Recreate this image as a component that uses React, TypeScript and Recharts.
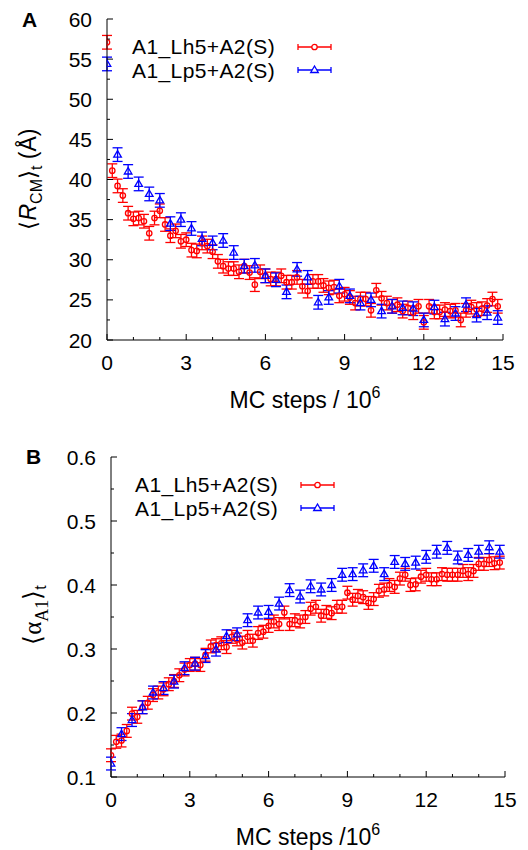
import React from "react";
import { ComposedChart, Scatter, ErrorBar, XAxis, YAxis, Legend } from "recharts";

const FONT = '"Liberation Sans", Arial, Helvetica, sans-serif';
const SERIF = '"Liberation Serif", "Times New Roman", serif';
const RED = "#ff0000";
const BLUE = "#0000ff";

const seriesNames = ["A1_Lh5+A2(S)", "A1_Lp5+A2(S)"];

// MC steps (x 10^6): red series sampled every 0.2, blue every 0.4
const stepsFine = [
  0, 0.2, 0.4, 0.6, 0.8, 1, 1.2, 1.4, 1.6, 1.8, 2, 2.2, 2.4, 2.6, 2.8, 3, 3.2, 3.4, 3.6, 3.8,
  4, 4.2, 4.4, 4.6, 4.8, 5, 5.2, 5.4, 5.6, 5.8, 6, 6.2, 6.4, 6.6, 6.8, 7, 7.2, 7.4, 7.6, 7.8,
  8, 8.2, 8.4, 8.6, 8.8, 9, 9.2, 9.4, 9.6, 9.8, 10, 10.2, 10.4, 10.6, 10.8, 11, 11.2, 11.4, 11.6, 11.8,
  12, 12.2, 12.4, 12.6, 12.8, 13, 13.2, 13.4, 13.6, 13.8, 14, 14.2, 14.4, 14.6, 14.8,
];
const stepsCoarse = [
  0, 0.4, 0.8, 1.2, 1.6, 2, 2.4, 2.8, 3.2, 3.6, 4, 4.4, 4.8, 5.2, 5.6, 6, 6.4, 6.8, 7.2, 7.6,
  8, 8.4, 8.8, 9.2, 9.6, 10, 10.4, 10.8, 11.2, 11.6, 12, 12.4, 12.8, 13.2, 13.6, 14, 14.4, 14.8,
];

// panel A: <R_CM>_t (Angstrom)
const rcmLh5 = [
  57.1, 41.1, 39.2, 38.0, 35.8, 35.1, 35.2, 34.8, 33.3, 35.2, 36.1, 34.4, 33.0, 33.6, 32.3, 32.5, 31.2, 31.1, 32.1, 31.7,
  31.0, 29.8, 29.2, 28.9, 28.9, 28.5, 29.2, 28.4, 26.9, 28.5, 28.0, 27.6, 27.6, 28.0, 27.2, 27.2, 27.8, 26.7, 26.1, 27.3,
  27.3, 26.8, 26.5, 26.6, 25.5, 25.7, 25.3, 24.6, 25.1, 25.1, 23.7, 26.2, 25.2, 24.6, 24.2, 24.4, 23.6, 24.0, 23.4, 24.2,
  22.2, 24.2, 23.5, 23.5, 23.8, 23.6, 23.7, 22.5, 23.7, 24.1, 23.8, 23.9, 24.3, 25.1, 24.2,
];
const rcmLp5 = [
  54.4, 43.1, 41.0, 39.45, 38.2, 37.4, 34.5, 35.0, 33.9, 32.6, 32.1, 32.4, 30.9, 29.2, 29.3, 28.0, 27.5, 26.0, 28.8, 27.8,
  24.7, 25.3, 26.7, 25.5, 24.6, 25.0, 23.6, 24.2, 24.0, 23.9, 22.5, 24.1, 22.6, 23.3, 24.4, 23.1, 23.4, 22.8,
];
const rcmErr = 0.85;

// panel B: <alpha_A1>_t
const alphaLh5 = [
  0.134, 0.155, 0.157, 0.172, 0.199, 0.194, 0.209, 0.216, 0.228, 0.232, 0.237, 0.245, 0.25, 0.259, 0.268, 0.275, 0.277, 0.275, 0.291, 0.304,
  0.306, 0.309, 0.303, 0.319, 0.315, 0.31, 0.319, 0.313, 0.325, 0.327, 0.336, 0.343, 0.339, 0.357, 0.339, 0.345, 0.343, 0.35, 0.363, 0.366,
  0.352, 0.358, 0.356, 0.366, 0.366, 0.388, 0.377, 0.383, 0.381, 0.372, 0.378, 0.391, 0.393, 0.4, 0.397, 0.41, 0.416, 0.4, 0.401, 0.413,
  0.416, 0.409, 0.409, 0.417, 0.416, 0.416, 0.416, 0.422, 0.417, 0.422, 0.433, 0.433, 0.439, 0.434, 0.435,
];
const alphaLp5 = [
  0.121, 0.167, 0.189, 0.209, 0.232, 0.239, 0.249, 0.27, 0.277, 0.289, 0.299, 0.32, 0.323, 0.345, 0.357, 0.358, 0.371, 0.392, 0.382, 0.398,
  0.393, 0.4, 0.416, 0.417, 0.423, 0.43, 0.417, 0.436, 0.433, 0.435, 0.444, 0.452, 0.458, 0.443, 0.447, 0.452, 0.459, 0.452,
];
const alphaErr = 0.01;

// axis ticks
const xMajor = [0, 3, 6, 9, 12, 15];
const xTicks = [0, 1, 2, 3, 4, 5, 6, 7, 8, 9, 10, 11, 12, 13, 14, 15];
const rcmMajor = [20, 25, 30, 35, 40, 45, 50, 55, 60];
const rcmTicks = [20, 22.5, 25, 27.5, 30, 32.5, 35, 37.5, 40, 42.5, 45, 47.5, 50, 52.5, 55, 57.5, 60];
const alphaMajor = [0.1, 0.2, 0.3, 0.4, 0.5, 0.6];
const alphaTicks = [0.1, 0.15, 0.2, 0.25, 0.3, 0.35, 0.4, 0.45, 0.5, 0.55, 0.6];

const toPoints = (xs: number[], ys: number[], err: number) => xs.map((x, i) => ({ x, y: ys[i], err }));

const Circle = (p: any) => <circle cx={p.cx} cy={p.cy} r={2.7} fill="none" stroke={RED} strokeWidth={1.3} />;
const Triangle = (p: any) => (
  <polygon
    points={`${p.cx},${p.cy - 4} ${p.cx - 3.8},${p.cy + 2.5} ${p.cx + 3.8},${p.cy + 2.5}`}
    fill="none"
    stroke={BLUE}
    strokeWidth={1.3}
  />
);

function makeTick(side: string, majors: number[], fmt?: (v: number) => string) {
  return (props: any) => {
    const { x, y, payload } = props;
    const v = payload.value;
    const major = majors.includes(v);
    const len = major ? 6 : 3;
    let tl: any;
    if (side === "bottom") tl = { x1: x, x2: x, y1: y, y2: y - len };
    else if (side === "top") tl = { x1: x, x2: x, y1: y, y2: y + len };
    else if (side === "left") tl = { x1: x, x2: x + len, y1: y, y2: y };
    else tl = { x1: x, x2: x - len, y1: y, y2: y };
    return (
      <g>
        <line {...tl} stroke="#000" strokeWidth={1} />
        {major && fmt && side === "bottom" && (
          <text x={x} y={y + 30} textAnchor="middle" fontFamily={FONT} fontSize={21} fill="#000">
            {fmt(v)}
          </text>
        )}
        {major && fmt && side === "left" && (
          <text x={x - 15} y={y + 7.5} textAnchor="end" fontFamily={FONT} fontSize={21} fill="#000">
            {fmt(v)}
          </text>
        )}
      </g>
    );
  };
}

const renderLegend = (props: any) => (
  <div style={{ fontFamily: FONT, fontSize: 21, color: "#000" }}>
    {(props.payload || []).map((e: any, i: number) => {
      const c = i === 0 ? RED : BLUE;
      return (
        <div key={i} style={{ display: "flex", alignItems: "center", height: 23.5 }}>
          <span
            style={{ display: "inline-block", width: 165, whiteSpace: "nowrap", lineHeight: "23px", letterSpacing: 0.4 }}
          >
            {e.value}
          </span>
          <svg width={36} height={14} style={{ display: "block" }}>
            <line x1={1} x2={34} y1={7} y2={7} stroke={c} strokeWidth={1.3} />
            <line x1={1} x2={1} y1={4} y2={10} stroke={c} strokeWidth={1.3} />
            <line x1={34} x2={34} y1={4} y2={10} stroke={c} strokeWidth={1.3} />
            {i === 0 ? (
              <circle cx={17.5} cy={7} r={2.7} fill="#fff" stroke={c} strokeWidth={1.3} />
            ) : (
              <polygon points="17.5,3 13.7,9.5 21.3,9.5" fill="#fff" stroke={c} strokeWidth={1.3} />
            )}
          </svg>
        </div>
      );
    })}
  </div>
);

function Panel(props: {
  height: number;
  marginTop: number;
  marginRight: number;
  yWidth: number;
  xHeight: number;
  yDomain: number[];
  yTicks: number[];
  yMajor: number[];
  yFmt: (v: number) => string;
  red: any[];
  blue: any[];
  letter: string;
  letterPos: number[];
  xTitle: string;
  yTitle: React.ReactNode;
  legendTop: number;
  legendLeft: number;
}) {
  return (
    <ComposedChart
      width={528}
      height={props.height}
      margin={{ top: props.marginTop, right: props.marginRight, left: 0, bottom: 0 }}
    >
      <XAxis
        dataKey="x"
        type="number"
        domain={[0, 15]}
        ticks={xTicks}
        interval={0}
        allowDataOverflow
        height={props.xHeight}
        tickSize={0}
        tickMargin={0}
        axisLine={{ stroke: "#000", strokeWidth: 1 }}
        tickLine={false}
        tick={makeTick("bottom", xMajor, (v) => String(v))}
        label={{
          content: (lp: any) => {
            const vb = lp.viewBox;
            return (
              <text x={vb.x + vb.width / 2} y={vb.y + 68} textAnchor="middle" fontFamily={FONT} fontSize={23} fill="#000">
                {props.xTitle}
                <tspan dy={-10} fontSize={16}>6</tspan>
              </text>
            );
          },
        }}
      />
      <XAxis
        xAxisId="top"
        orientation="top"
        type="number"
        domain={[0, 15]}
        ticks={xTicks}
        interval={0}
        allowDataOverflow
        height={0}
        tickSize={0}
        tickMargin={0}
        axisLine={{ stroke: "#000", strokeWidth: 1 }}
        tickLine={false}
        tick={makeTick("top", xMajor)}
      />
      <YAxis
        type="number"
        domain={props.yDomain}
        ticks={props.yTicks}
        interval={0}
        allowDataOverflow
        width={props.yWidth}
        tickSize={0}
        tickMargin={0}
        axisLine={{ stroke: "#000", strokeWidth: 1 }}
        tickLine={false}
        tick={makeTick("left", props.yMajor, props.yFmt)}
        label={{
          content: () => (
            <g>
              <text x={props.letterPos[0]} y={props.letterPos[1]} fontFamily={FONT} fontWeight="bold" fontSize={21} fill="#000">
                {props.letter}
              </text>
              {props.yTitle}
            </g>
          ),
        }}
      />
      <YAxis
        yAxisId="right"
        orientation="right"
        type="number"
        domain={props.yDomain}
        ticks={props.yTicks}
        interval={0}
        allowDataOverflow
        width={0}
        tickSize={0}
        tickMargin={0}
        axisLine={{ stroke: "#000", strokeWidth: 1 }}
        tickLine={false}
        tick={makeTick("right", props.yMajor)}
      />
      <Legend
        layout="horizontal"
        verticalAlign="middle"
        align="center"
        content={renderLegend}
        wrapperStyle={{ top: props.legendTop, left: props.legendLeft, width: 220 }}
      />
      <Scatter name={seriesNames[0]} data={props.red} dataKey="y" fill={RED} shape={Circle} isAnimationActive={false}>
        <ErrorBar dataKey="err" direction="y" width={5} stroke={RED} strokeWidth={1.3} isAnimationActive={false} />
      </Scatter>
      <Scatter name={seriesNames[1]} data={props.blue} dataKey="y" fill={BLUE} shape={Triangle} isAnimationActive={false}>
        <ErrorBar dataKey="err" direction="y" width={5} stroke={BLUE} strokeWidth={1.3} isAnimationActive={false} />
      </Scatter>
    </ComposedChart>
  );
}

export default function App() {
  return (
    <div style={{ position: "absolute", left: 0, top: 0, width: 528, height: 850, background: "#fff" }}>
      <div style={{ position: "absolute", left: 0, top: 0 }}>
        <Panel
          height={420}
          marginTop={19}
          marginRight={25}
          yWidth={107}
          xHeight={80}
          yDomain={[20, 60]}
          yTicks={rcmTicks}
          yMajor={rcmMajor}
          yFmt={(v) => String(v)}
          red={toPoints(stepsFine, rcmLh5, rcmErr)}
          blue={toPoints(stepsCoarse, rcmLp5, rcmErr)}
          letter="A"
          letterPos={[22, 27]}
          xTitle="MC steps / 10"
          yTitle={
            <text
              x={28}
              y={179}
              transform="rotate(-90, 28, 179)"
              textAnchor="middle"
              dominantBaseline="central"
              fontFamily={FONT}
              fontSize={23}
              fill="#000"
            >
              ⟨<tspan fontStyle="italic">R</tspan>
              <tspan baselineShift="sub" fontSize={16}>CM</tspan>⟩
              <tspan baselineShift="sub" fontSize={16}>t</tspan> (Å)
            </text>
          }
          legendTop={35}
          legendLeft={132}
        />
      </div>
      <div style={{ position: "absolute", left: 0, top: 420 }}>
        <Panel
          height={430}
          marginTop={37}
          marginRight={23}
          yWidth={111}
          xHeight={73}
          yDomain={[0.1, 0.6]}
          yTicks={alphaTicks}
          yMajor={alphaMajor}
          yFmt={(v) => v.toFixed(1)}
          red={toPoints(stepsFine, alphaLh5, alphaErr)}
          blue={toPoints(stepsCoarse, alphaLp5, alphaErr)}
          letter="B"
          letterPos={[26, 44]}
          xTitle="MC steps /10"
          yTitle={
            <text
              x={32}
              y={195}
              transform="rotate(-90, 32, 195)"
              textAnchor="middle"
              dominantBaseline="central"
              fontFamily={SERIF}
              fontSize={25}
              fill="#000"
            >
              ⟨α<tspan baselineShift="sub" fontSize={18}>A1</tspan>⟩
              <tspan baselineShift="sub" fontSize={16} fontFamily={FONT}>t</tspan>
            </text>
          }
          legendTop={53}
          legendLeft={135}
        />
      </div>
    </div>
  );
}
